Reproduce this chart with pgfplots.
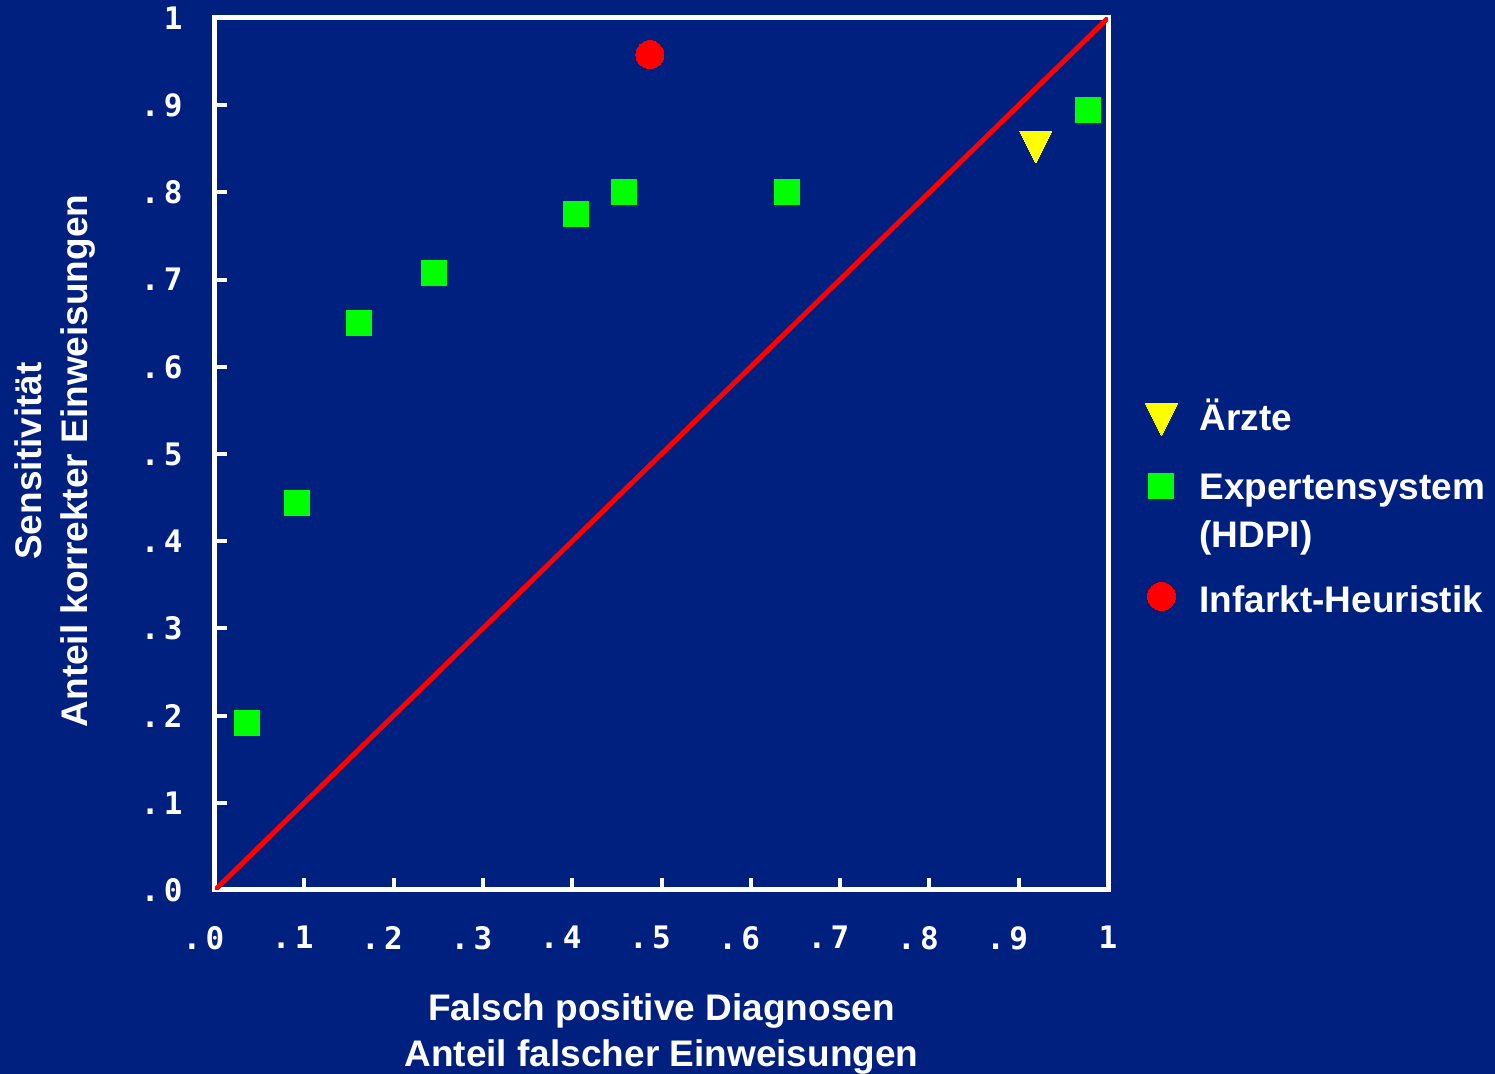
\documentclass[border=0pt]{standalone}
\usepackage{pgfplots}
\pgfplotsset{compat=1.18}
\usepackage{fontspec}
\setmainfont{Liberation Sans}
\newfontfamily\tickfont{DejaVu Sans Mono}[BoldFont={DejaVu Sans Mono Bold}]
\usetikzlibrary{backgrounds}
\definecolor{bgblue}{RGB}{0,32,128}
\definecolor{mygreen}{RGB}{0,255,0}
\definecolor{myyellow}{RGB}{255,255,0}
\definecolor{myred}{RGB}{255,0,0}
\newcommand{\tl}[1]{\llap{.\kern2.2pt}#1}
\begin{document}
\begin{tikzpicture}
\begin{axis}[
  scale only axis,
  width=446.5pt, height=436pt,
  xmin=0, xmax=1, ymin=0, ymax=1,
  axis line style={white, line width=2.5pt},
  tick pos=left, tick align=inside,
  major tick length=6pt,
  tick style={white, line width=2pt},
  xtick={0,0.1,0.2,0.3,0.4,0.5,0.6,0.7,0.8,0.9,1},
  ytick={0,0.1,0.2,0.3,0.4,0.5,0.6,0.7,0.8,0.9,1},
  xticklabels={\tl0,\tl1,\tl2,\tl3,\tl4,\tl5,\tl6,\tl7,\tl8,\tl9,1},
  yticklabels={\tl0,\tl1,\tl2,\tl3,\tl4,\tl5,\tl6,\tl7,\tl8,\tl9,1},
  ticklabel style={font=\tickfont\bfseries\fontsize{15.5}{15.5}\selectfont, text=white, inner sep=0pt},
  xticklabel style={anchor=north, yshift=-18pt},
  yticklabel style={anchor=east, xshift=-16pt},
  xlabel={Falsch positive Diagnosen\\Anteil falscher Einweisungen},
  ylabel={Sensitivität\\Anteil korrekter Einweisungen},
  label style={font=\bfseries\fontsize{18.5}{23}\selectfont, text=white, align=center, inner sep=0pt},
  xlabel style={at={(axis description cs:0.5,0)}, anchor=north, yshift=-51.5pt},
  ylabel style={at={(axis description cs:0,0.5)}, anchor=south, yshift=59.5pt, xshift=-3.5pt},
  legend style={at={(rel axis cs:1.0336,0.575)}, anchor=north west, draw=none, fill=none,
    text=white, font=\bfseries\fontsize{18.5}{24}\selectfont, row sep=8.3pt, column sep=9pt},
  legend cell align=left,
]
\addplot[myred, line width=2.5pt, forget plot] coordinates {(0,0) (1,1)};
\addplot[only marks, mark=triangle*, mark size=9.2pt,
  mark options={fill=myyellow, draw=myyellow, line width=0pt, rotate=180, yscale=1.15},
  legend image post style={yshift=5.5pt}]
  coordinates {(0.919,0.858)};
\addlegendentry[text height=16.7pt, text depth=11.2pt]{Ärzte}
\addplot[only marks, mark=square*, mark size=6.25pt,
  mark options={fill=mygreen, draw=mygreen, line width=0pt},
  legend image post style={yshift=1.5pt}]
  coordinates {
    (0.036,0.1915)
    (0.092,0.444)
    (0.161,0.650)
    (0.245,0.708)
    (0.404,0.775)
    (0.458,0.800)
    (0.641,0.800)
    (0.978,0.894)
  };
\addlegendentry[text height=11pt, text depth=0.7pt]{Expertensystem}
\addlegendimage{empty legend}
\addlegendentry[text height=11pt, text depth=7.2pt]{(HDPI)}
\addplot[only marks, mark=*, mark size=7pt,
  mark options={fill=myred, draw=myred, line width=0pt},
  legend image post style={yshift=4.5pt}]
  coordinates {(0.487,0.958)};
\addlegendentry[text height=11pt, text depth=4pt]{Infarkt-Heuristik}
\end{axis}
\path (current axis.south west) ++(-107.5pt,-92pt) coordinate (A);
\path (current axis.north east) ++(193.5pt,9pt) coordinate (B);
\begin{pgfonlayer}{background}
\fill[bgblue] (A) rectangle (B);
\end{pgfonlayer}
\pgfresetboundingbox
\path[use as bounding box] (A) rectangle (B);
\end{tikzpicture}
\end{document}
